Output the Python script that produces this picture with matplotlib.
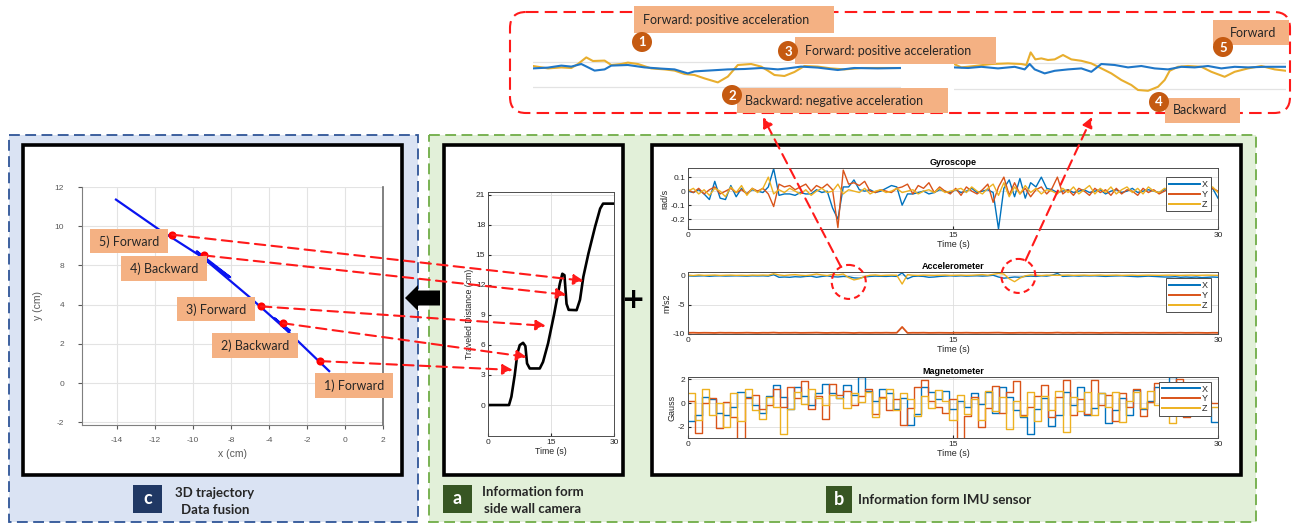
import numpy as np
import matplotlib
matplotlib.use("Agg")
import matplotlib.pyplot as plt
from matplotlib.patches import Rectangle, FancyBboxPatch, Circle, ConnectionPatch, FancyArrow
from matplotlib.ticker import FuncFormatter

plt.rcParams["axes.unicode_minus"] = False

# ---------------- (c) trajectory in the x-y plane ----------------
traj_x = [-2.79, -5.25, -5.70, -4.90, -5.25, -7.09, -9.51, -9.80, -8.05, -9.51, -11.83, -14.10]
traj_y = [0.57, 2.86, 3.30, 2.68, 2.86, 4.44, 6.42, 6.72, 5.40, 6.42, 7.86, 9.39]
traj_xtick_labels = ["-14", "-12", "-10", "-8", "-4", "-2", "0", "2"]
traj_ytick_labels = ["-2", "0", "2", "4", "8", "10", "12"]
event_labels = ["1) Forward", "2) Backward", "3) Forward", "4) Backward", "5) Forward"]
event_x = [-3.32, -5.26, -6.42, -9.42, -11.10]
event_y = [1.12, 3.05, 3.91, 6.51, 7.57]

# ---------------- (a) side wall camera ----------------
cam_t = [0, 5.0, 5.57, 6.36, 7.0, 7.56, 8.35, 8.9, 9.3, 9.94, 12.33, 13.1, 14.3, 15.7,
         17.1, 17.7, 18.2, 18.7, 19.2, 21.1, 21.9, 22.7, 23.9, 25.5, 26.7, 27.4, 30]
cam_d = [0, 0, 0.83, 2.99, 5.15, 5.98, 6.21, 5.88, 4.15, 3.65, 3.65, 4.3, 6.15, 8.97,
         12.1, 13.1, 12.96, 10.1, 9.5, 9.47, 10.5, 12.8, 15.1, 17.8, 19.6, 20.1, 20.1]
# where each motion event sits on the camera curve
event_t = [5.9, 9.2, 13.8, 18.7, 22.8]
event_d = [3.5, 4.8, 7.9, 11.0, 12.4]

# ---------------- (b) IMU sensor ----------------
imu_t = np.linspace(0, 30, 100)
gyro_x = [0.0, -0.01, 0.01, -0.02, -0.06, 0.07, -0.05, -0.06, 0.04, -0.04,
          0.02, -0.02, 0.01, 0.0, -0.01, 0.03, 0.16, -0.03, -0.02, -0.02,
          -0.03, -0.01, -0.02, -0.02, 0.01, -0.01, 0.0, -0.12, -0.2, 0.03,
          0.03, 0.08, 0.01, 0.0, 0.01, -0.01, 0.0, 0.02, 0.04, 0.03,
          -0.1, -0.02, -0.02, -0.01, 0.0, -0.02, -0.01, 0.01, 0.0, -0.01,
          0.01, -0.01, 0.0, 0.02, -0.01, 0.0, 0.01, -0.01, -0.27, 0.02,
          0.08, -0.04, 0.09, -0.05, 0.06, 0.03, 0.1, 0.02, 0.01, -0.01,
          0.0, 0.01, -0.01, 0.0, 0.01, -0.01, 0.0, 0.01, -0.02, 0.0,
          0.01, -0.01, 0.0, 0.02, -0.01, 0.0, 0.01, 0.0, -0.01, 0.01,
          0.0, 0.01, -0.01, 0.0, 0.02, -0.01, 0.01, 0.0, 0.02, -0.05]
gyro_y = [0.01, -0.01, 0.02, -0.02, 0.01, 0.03, -0.02, 0.0, 0.02, -0.01,
          0.01, -0.02, 0.02, 0.0, 0.02, -0.02, -0.11, 0.05, 0.03, 0.04,
          0.01, 0.03, 0.05, 0.0, 0.04, 0.02, 0.05, 0.01, -0.26, 0.15,
          0.05, 0.06, 0.04, 0.07, 0.0, -0.01, 0.01, 0.0, -0.01, 0.02,
          0.03, 0.05, -0.02, 0.04, 0.02, 0.06, -0.01, 0.03, 0.0, -0.02,
          0.02, -0.03, 0.03, 0.0, -0.02, 0.01, 0.05, -0.08, 0.03, 0.1,
          -0.03, 0.06, -0.02, 0.02, -0.04, 0.01, 0.03, -0.02, 0.02, 0.1,
          -0.02, 0.01, -0.03, 0.02, 0.0, -0.03, 0.02, -0.01, 0.01, -0.03,
          0.02, -0.02, 0.01, 0.0, -0.03, 0.02, -0.01, 0.01, -0.02, 0.0,
          0.02, -0.01, 0.0, 0.02, -0.02, 0.01, 0.0, -0.01, 0.02, 0.0]
gyro_z = [0.0, 0.02, -0.02, 0.01, -0.03, 0.02, 0.0, -0.04, 0.03, -0.01,
          0.04, -0.03, 0.02, -0.01, 0.02, 0.1, -0.02, 0.01, -0.01, 0.02,
          0.0, -0.02, 0.01, -0.03, 0.0, 0.02, -0.01, 0.0, 0.05, -0.02,
          0.01, 0.0, -0.01, 0.02, -0.02, 0.0, 0.01, -0.01, 0.0, 0.02,
          -0.01, 0.0, 0.01, -0.02, 0.0, 0.01, -0.01, 0.02, -0.01, 0.0,
          0.01, 0.02, -0.01, 0.03, 0.0, -0.02, 0.02, 0.05, -0.03, 0.06,
          -0.04, 0.03, -0.02, 0.04, -0.01, 0.02, -0.02, 0.01, 0.0, -0.02,
          0.02, -0.01, 0.03, -0.02, 0.01, 0.04, -0.02, 0.02, -0.01, 0.03,
          -0.02, 0.01, 0.03, -0.01, 0.02, -0.02, 0.03, 0.0, -0.01, 0.02,
          0.01, -0.02, 0.03, 0.0, 0.01, -0.01, 0.02, 0.01, 0.03, -0.01]
acc_x = [-0.1, -0.15, -0.12, -0.1, -0.18, -0.12, -0.1, -0.14, -0.12, -0.1,
         -0.12, -0.15, -0.1, -0.12, -0.1, -0.15, 0.1, -0.35, -0.3, -0.35,
         -0.25, -0.3, -0.2, -0.15, -0.35, -0.2, -0.1, -0.25, -0.3, -0.2,
         -0.25, -0.45, -0.5, -0.3, -0.2, -0.15, -0.18, -0.2, -0.15, -0.2,
         0.4, -0.6, -0.2, -0.15, -0.2, -0.35, -0.3, -0.2, -0.15, -0.1,
         -0.15, -0.1, -0.15, -0.12, -0.1, -0.15, -0.1, 0.0, -0.3, -0.5,
         -0.4, -0.3, -0.35, -0.2, -0.15, -0.2, -0.1, -0.15, 0.0, 0.3,
         -0.2, -0.15, -0.1, -0.15, -0.1, -0.12, -0.1, -0.15, -0.2, -0.15,
         -0.12, -0.1, -0.15, -0.2, -0.25, -0.2, -0.15, -0.2, -0.25, -0.3,
         -0.3, -0.25, -0.35, -0.3, -0.35, -0.3, -0.4, -0.35, -0.3, -0.35]
acc_y = [-9.80, -9.78, -9.81, -9.79, -9.80, -9.82, -9.78, -9.80, -9.79, -9.81,
         -9.80, -9.78, -9.80, -9.82, -9.79, -9.80, -9.76, -9.81, -9.79, -9.80,
         -9.78, -9.81, -9.80, -9.79, -9.77, -9.80, -9.82, -9.79, -9.81, -9.78,
         -9.80, -9.83, -9.79, -9.80, -9.81, -9.79, -9.80, -9.78, -9.80, -9.79,
         -8.80, -9.82, -9.79, -9.80, -9.78, -9.81, -9.80, -9.79, -9.80, -9.81,
         -9.79, -9.80, -9.78, -9.80, -9.81, -9.79, -9.80, -9.78, -9.77, -9.80,
         -9.82, -9.81, -9.79, -9.80, -9.78, -9.80, -9.79, -9.81, -9.80, -9.76,
         -9.80, -9.79, -9.81, -9.78, -9.80, -9.79, -9.80, -9.82, -9.79, -9.80,
         -9.78, -9.80, -9.81, -9.79, -9.80, -9.78, -9.80, -9.79, -9.81, -9.80,
         -9.79, -9.80, -9.78, -9.81, -9.80, -9.79, -9.80, -9.82, -9.79, -9.80]
acc_z = [0.0, -0.05, 0.05, -0.02, 0.0, 0.03, -0.03, 0.0, 0.02, -0.02,
         0.0, -0.03, 0.02, 0.0, 0.03, 0.0, 0.25, 0.05, -0.05, 0.05,
         0.1, 0.0, -0.05, 0.05, 0.2, 0.05, -0.05, 0.15, 0.05, 0.2,
         -0.4, -0.8, -0.6, -0.2, 0.0, 0.05, -0.05, 0.0, 0.02, 0.0,
         -1.5, 0.1, 0.0, -0.03, 0.02, 0.0, -0.02, 0.0, 0.03, -0.02,
         0.0, 0.02, -0.02, 0.0, 0.05, 0.1, 0.0, 0.15, 0.3, 0.2,
         -0.6, -1.1, -0.5, -0.1, 0.05, 0.0, -0.05, 0.02, 0.0, -0.02,
         0.0, 0.03, -0.02, 0.0, 0.02, -0.02, 0.0, 0.03, -0.02, 0.0,
         0.02, -0.02, 0.0, 0.02, -0.03, 0.0, 0.02, 0.0, -0.02, 0.0,
         0.02, 0.0, -0.02, 0.0, 0.02, -0.02, 0.0, 0.02, 0.0, -0.02]
mag_t = np.linspace(0, 30, 76)
mag_x = [-1.5, -1.0, 0.5, 0.3, -0.8, -1.0, -0.3, 0.9, 0.5, -0.2,
         -0.8, 0.6, 1.5, 0.5, -0.5, 1.3, 0.6, -0.2, 0.8, 1.6,
         0.8, 0.4, 1.5, 0.7, 2.2, 1.0, 0.2, 1.2, 0.8, -0.5,
         0.4, -1.8, -0.9, 1.3, 0.9, 0.3, 1.0, -0.5, 0.2, -0.3,
         0.8, -0.1, 0.9, -0.8, 1.3, 0.5, -0.6, -1.2, -2.6, -0.5,
         0.4, -1.9, -1.0, 0.9, -0.2, 1.3, -1.0, -0.4, 0.8, -1.7,
         -0.6, 0.4, -1.0, 1.1, -0.5, 0.2, 1.3, 0.9, 2.2, 1.0,
         -0.1, 0.9, 0.3, -0.4, -1.6]
mag_y = [0.2, -2.5, 0.0, 0.4, -2.1, 0.1, -1.2, -3.0, 0.4, 0.7,
         -0.5, -0.2, 1.2, -0.3, 1.3, 0.4, 1.8, -0.5, 0.6, -1.3,
         1.6, 0.7, 1.0, -0.2, 0.6, 1.2, -0.9, 0.5, -0.6, 0.3,
         -1.8, -0.4, 1.3, 1.9, 0.2, -0.3, -0.8, 0.3, -3.0, -1.1,
         0.5, -2.0, -0.4, 1.4, -0.8, 0.9, 1.8, -1.0, -0.3, 0.6,
         1.5, -1.2, 0.5, 1.9, -1.0, 0.3, -0.9, 1.9, -0.2, 0.7,
         -1.5, 0.8, -0.3, 1.2, -1.1, 0.1, 1.7, -0.8, 0.3, 2.0,
         -1.2, 0.9, -0.6, 0.2, 0.0]
mag_z = [0.8, -1.4, 1.2, -1.0, 0.0, -2.0, 0.8, -1.5, 1.2, -0.6,
         -1.3, 0.5, -0.3, -2.6, -0.5, 0.9, -0.1, 1.2, 0.4, -0.2,
         0.7, 0.4, -0.4, 0.8, 0.1, 0.9, -1.2, 0.4, 1.2, -0.6,
         0.8, 0.3, -1.1, 0.6, -0.4, 1.1, 0.2, -1.4, 0.7, -0.9,
         0.3, -1.4, 1.0, -0.7, 0.5, -2.2, 0.2, -1.1, 0.9, -1.5,
         0.6, -0.6, 1.0, -2.4, 0.5, -0.7, 0.9, -1.0, 0.8, -0.3,
         0.9, -1.6, 0.2, 0.9, -0.4, 1.0, -0.2, 0.7, -1.7, 0.2,
         0.6, -0.8, 0.1, -0.4, -0.3]

# zoomed accelerometer windows (X and Z channels)
seg1_tz = [0.15, 0.6, 1.0, 1.3, 1.5, 1.75, 1.95, 2.3, 2.5, 2.8, 3.0, 3.3, 3.7, 4.1, 4.4, 4.7, 5.0,
           5.3, 5.7, 6.0, 6.3, 6.7, 7.0, 7.2, 7.4, 7.7, 8.0, 8.3, 8.7, 9.1, 9.5, 10.0, 10.5, 11.2]
seg1_z = [0.10, -0.02, 0.03, 0.0, 0.2, 0.53, 0.35, 0.37, 0.15, 0.2, 0.27, 0.2, -0.02, -0.07, -0.13,
          -0.3, -0.35, -0.52, -0.72, -0.43, 0.15, 0.2, 0.07, -0.13, -0.35, -0.4, -0.2, 0.1, 0.07,
          -0.02, -0.07, 0.0, 0.0, 0.0]
seg1_tx = [0.15, 0.6, 1.0, 1.3, 1.6, 2.0, 2.3, 2.5, 3.0, 3.5, 4.0, 4.4, 4.8, 5.0, 5.4, 6.0, 6.5,
           7.0, 7.5, 7.8, 8.2, 8.7, 9.3, 9.8, 10.5, 11.2]
seg1_x = [-0.02, 0.02, 0.12, 0.07, 0.2, -0.13, -0.07, 0.12, 0.15, 0.03, -0.03, -0.07, -0.27,
          -0.17, -0.13, -0.07, -0.05, 0.0, -0.07, -0.02, 0.07, 0.02, -0.1, 0.0, -0.02, 0.0]
seg2_tz = [0.18, 0.4, 0.8, 1.3, 1.8, 2.2, 2.35, 2.48, 2.62, 2.8, 3.0, 3.2, 3.45, 3.7, 4.0, 4.3,
           4.6, 4.9, 5.2, 5.5, 5.7, 6.0, 6.3, 6.5, 6.65, 6.9, 7.2, 7.6, 7.9, 8.3, 8.6, 9.0, 9.4,
           9.8, 10.14]
seg2_z = [0.17, 0.0, 0.07, 0.17, 0.2, 0.17, 0.12, 0.75, 0.4, 0.45, 0.37, 0.4, 0.62, 0.4, 0.33,
          0.2, -0.05, -0.3, -0.63, -0.88, -1.13, -1.17, -0.97, -0.63, -0.17, 0.03, 0.07, 0.03,
          -0.22, -0.47, -0.22, -0.05, 0.07, -0.1, -0.17]
seg2_tx = [0.18, 0.6, 1.0, 1.5, 2.0, 2.3, 2.45, 2.6, 2.9, 3.2, 3.6, 4.0, 4.3, 4.6, 5.0, 5.4,
           5.8, 6.2, 6.6, 7.0, 7.4, 7.8, 8.2, 8.6, 9.0, 9.5, 10.14]
seg2_x = [0.0, -0.03, 0.03, -0.05, 0.03, -0.1, 0.17, -0.1, -0.3, -0.17, -0.1, -0.05, -0.22,
          0.17, 0.12, 0.0, 0.07, -0.05, -0.1, 0.03, 0.0, 0.07, -0.05, 0.03, 0.0, 0.03, 0.03]
# accelerometer spots that the windows enlarge
zoom_t = [9.1, 18.7]
zoom_a = [-1.14, -0.12]

C_X, C_Y, C_Z = "#0072BD", "#D95319", "#EDB120"
ORANGE, BADGE = "#F4B183", "#C55A11"
UI_FONT = ["Lato", "DejaVu Sans"]
PLOT_FONT = ["Liberation Sans", "DejaVu Sans"]

W, H = 1300, 524
fig = plt.figure(figsize=(W / 100, H / 100), dpi=100)
fig.patch.set_facecolor("white")


def frac(x0, y0, x1, y1):
    return [x0 / W, 1 - y1 / H, (x1 - x0) / W, (y1 - y0) / H]


def to_px(ax, x, y):
    dx, dy = ax.transData.transform((x, y))
    return dx, H - dy


# background layer (pixel coordinates, y downwards)
bg = fig.add_axes([0, 0, 1, 1], zorder=-5)
bg.set_xlim(0, W)
bg.set_ylim(H, 0)
bg.axis("off")
bg.add_patch(Rectangle((9, 135), 409, 387, fc="#DAE3F3", ec="#2F5597", lw=1.3, ls=(0, (6, 3))))
bg.add_patch(Rectangle((429, 135), 827, 387, fc="#E2F0D9", ec="#70AD47", lw=1.3, ls=(0, (6, 3))))
for x0, x1 in [(23, 402), (444, 623), (652, 1241)]:
    bg.add_patch(Rectangle((x0, 145), x1 - x0, 330, fc="white", ec="black", lw=2.6))
bg.add_patch(FancyBboxPatch((510, 12), 780, 101, boxstyle="round,pad=0,rounding_size=16",
                            fc="white", ec="#FF1A1A", lw=1.5, ls=(0, (6, 3))))

# ---------- (c) trajectory ----------
ax_c = fig.add_axes(frac(82, 187, 383, 425))
ax_c.plot(traj_x, traj_y, color="#0A14F0", lw=1.6, solid_capstyle="butt")
ax_c.scatter(event_x, event_y, s=34, color="#FF0000", zorder=5, linewidths=0)
ax_c.set_xlim(-15.84, 0)
ax_c.set_ylim(-2.14, 9.96)
ax_c.set_xticks(np.arange(-14, 1, 2))
ax_c.set_xticklabels(traj_xtick_labels)
ax_c.set_yticks(np.arange(-2, 11, 2))
ax_c.set_yticklabels(traj_ytick_labels)
ax_c.grid(color="#E3E3E3", lw=0.8)
ax_c.set_axisbelow(True)
ax_c.tick_params(length=3, labelsize=6, colors="#595959", pad=6)
ax_c.tick_params(axis="y", pad=10)
for s in ["left", "bottom"]:
    ax_c.spines[s].set_color("#7F7F7F")
ax_c.spines["right"].set_color("#6B6B6B")
ax_c.spines["right"].set_linewidth(1.2)
ax_c.spines["top"].set_visible(False)
ax_c.set_xlabel("x (cm)", fontsize=7.5, color="#595959", family=PLOT_FONT, labelpad=3)
ax_c.set_ylabel("y (cm)", fontsize=7.5, color="#595959", family=PLOT_FONT, labelpad=8)
for lab in ax_c.get_xticklabels() + ax_c.get_yticklabels():
    lab.set_family(PLOT_FONT)

# ---------- (a) camera ----------
ax_a = fig.add_axes(frac(488, 192, 614, 436))
ax_a.plot(cam_t, cam_d, color="black", lw=1.9, solid_joinstyle="round")
ax_a.set_xlim(0, 30)
ax_a.set_ylim(-3.09, 21.26)
ax_a.set_xticks([0, 15, 30])
ax_a.set_yticks(np.arange(0, 22, 3))
ax_a.grid(color="#DCDCDC", lw=0.6)
ax_a.set_axisbelow(True)
ax_a.tick_params(direction="in", length=2, labelsize=6, pad=2, colors="#262626")
for s in ax_a.spines.values():
    s.set_color("#4D4D4D")
    s.set_linewidth(0.7)
ax_a.set_xlabel("Time (s)", fontsize=6.3, family=PLOT_FONT, labelpad=1, color="#262626")
ax_a.set_ylabel("Traveled Distance (cm)", fontsize=6.3, family=PLOT_FONT, labelpad=1, color="#262626")
for lab in ax_a.get_xticklabels() + ax_a.get_yticklabels():
    lab.set_family(PLOT_FONT)


# ---------- (b) IMU ----------
def imu_axes(y0, y1, title, ylabel, ylim, yticks, legend_y):
    ax = fig.add_axes(frac(688, y0, 1218, y1))
    ax.set_xlim(0, 30)
    ax.set_ylim(*ylim)
    ax.set_xticks([0, 15, 30])
    ax.set_yticks(yticks)
    ax.yaxis.set_major_formatter(FuncFormatter(lambda v, p: f"{v:g}"))
    ax.grid(color="#DEDEDE", lw=0.6)
    ax.set_axisbelow(True)
    ax.tick_params(direction="in", length=2.5, labelsize=6, pad=2, colors="#262626")
    for s in ax.spines.values():
        s.set_color("#4D4D4D")
        s.set_linewidth(0.7)
    ax.set_title(title, fontsize=6.5, fontweight="bold", pad=2.5, family=PLOT_FONT)
    ax.set_xlabel("Time (s)", fontsize=6.5, labelpad=1, family=PLOT_FONT, color="#262626")
    ax.set_ylabel(ylabel, fontsize=6.5, labelpad=1, family=PLOT_FONT, color="#262626")
    for lab in ax.get_xticklabels() + ax.get_yticklabels():
        lab.set_family(PLOT_FONT)
    ax._legend_y = legend_y
    return ax


def imu_legend(ax, hlen=3.4):
    leg = ax.legend(["X", "Y", "Z"], loc="upper right", bbox_to_anchor=(0.986, ax._legend_y),
                    prop={"family": PLOT_FONT, "size": 6.5}, handlelength=hlen, handletextpad=0.25,
                    labelspacing=0.1, borderpad=0.3, borderaxespad=0, fancybox=False,
                    edgecolor="#4D4D4D", framealpha=1)
    leg.get_frame().set_linewidth(0.7)
    for line in leg.get_lines():
        line.set_linewidth(1.4)
    for t in leg.get_texts():
        t.set_color("#262626")


ax_g = imu_axes(168, 229, "Gyroscope", "rad/s", (-0.27, 0.165), [-0.2, -0.1, 0, 0.1], 0.85)
ax_g.plot(imu_t, gyro_x, color=C_X, lw=1.0)
ax_g.plot(imu_t, gyro_y, color=C_Y, lw=1.0)
ax_g.plot(imu_t, gyro_z, color=C_Z, lw=1.0)
imu_legend(ax_g)

ax_m = imu_axes(272, 334, "Accelerometer", "m/s2", (-10.0, 0.55), [-10, -5, 0], 0.9)
ax_m.plot(imu_t, acc_x, color=C_X, lw=1.0)
ax_m.plot(imu_t, acc_y, color=C_Y, lw=1.3)
ax_m.plot(imu_t, acc_z, color=C_Z, lw=1.0)
imu_legend(ax_m)

ax_mg = imu_axes(377, 438, "Magnetometer", "Gauss", (-2.92, 2.17), [-2, 0, 2], 0.92)
for vals, col in [(mag_x, C_X), (mag_y, C_Y), (mag_z, C_Z)]:
    ax_mg.plot(mag_t, list(vals) + [vals[-1]], drawstyle="steps-post", color=col, lw=1.0)
imu_legend(ax_mg, hlen=4.2)

# ---------- zoomed accelerometer windows ----------
for (x0, x1), (tz, vz, tx, vx), (ylo, yhi), grid_v in [
        ((533, 901), (seg1_tz, seg1_z, seg1_tx, seg1_x), (-1.6, 1.4), (0.3, -0.93)),
        ((954, 1286), (seg2_tz, seg2_z, seg2_tx, seg2_x), (-1.63, 1.37), (0.2, -1.1))]:
    axz = fig.add_axes(frac(x0, 40, x1, 100))
    axz.axis("off")
    for g in grid_v:
        axz.axhline(g, color="#E3E3E3", lw=0.9)
    axz.plot(tz, vz, color="#E8AE2E", lw=1.5)
    axz.plot(tx, vx, color="#1F77C8", lw=1.5)
    axz.set_xlim(tz[0], tz[-1])
    axz.set_ylim(ylo, yhi)

# ---------- foreground annotations ----------
fg = fig.add_axes([0, 0, 1, 1], zorder=10)
fg.set_xlim(0, W)
fg.set_ylim(H, 0)
fg.axis("off")
fg.patch.set_alpha(0)

# camera events linked to the trajectory points
for ex, ey, tt, td in zip(event_x, event_y, event_t, event_d):
    con = ConnectionPatch(xyA=(ex, ey), coordsA=ax_c.transData, xyB=(tt, td), coordsB=ax_a.transData,
                          arrowstyle="-|>,head_length=0.6,head_width=0.3", color="#FF1A1A", lw=1.5,
                          ls=(0, (5, 3)), mutation_scale=10, shrinkA=0, shrinkB=0, zorder=3)
    fig.add_artist(con)

# labels next to the trajectory points
traj_boxes = [(315, 373, 393, 398), (212, 333, 298, 358), (177, 297, 255, 321),
              (121, 256, 207, 281), (90, 229, 168, 253)]
for (x0, y0, x1, y1), txt in zip(traj_boxes, event_labels):
    fg.add_patch(Rectangle((x0, y0), x1 - x0, y1 - y0, fc=ORANGE, ec="none"))
    fg.text((x0 + x1) / 2, (y0 + y1) / 2 + 0.5, txt, ha="center", va="center", fontsize=9,
            family=UI_FONT, color="#262626")

# dashed circles on the accelerometer, pointing to the zoom windows
tips = [(763, 117), (1092, 117)]
for t0, a0, tip in zip(zoom_t, zoom_a, tips):
    cx, cy = to_px(ax_m, t0, a0)
    fg.add_patch(Circle((cx, cy), 17, fc="none", ec="#FF1A1A", lw=1.5, ls=(0, (3, 2))))
    d = np.array(tip) - np.array([cx, cy])
    start = np.array([cx, cy]) + 17 * d / np.hypot(*d)
    fg.annotate("", xy=tip, xytext=tuple(start),
                arrowprops=dict(arrowstyle="-|>,head_length=0.6,head_width=0.3", color="#FF1A1A",
                                lw=1.5, ls=(0, (5, 3)), mutation_scale=10, shrinkA=0, shrinkB=0))

# numbered notes in the zoom box
top_notes = [
    ("1", (642, 42), (634, 6, 834, 33), "Forward: positive acceleration", 643, 20),
    ("2", (732, 95), (737, 88, 948, 113), "Backward: negative acceleration", 745, 101),
    ("3", (788, 51), (795, 37, 996, 64), "Forward: positive acceleration", 805, 51),
    ("4", (1159, 102), (1165, 98, 1240, 123), "Backward", 1173, 110),
    ("5", (1223, 47), (1213, 20, 1289, 45), "Forward", 1230, 33),
]
for num, (cx, cy), (x0, y0, x1, y1), txt, tx, ty in top_notes:
    fg.add_patch(Rectangle((x0, y0), x1 - x0, y1 - y0, fc=ORANGE, ec="none"))
    fg.text(tx, ty, txt, ha="left", va="center", fontsize=9, family=UI_FONT, color="#262626")
for num, (cx, cy), *_ in top_notes:
    fg.add_patch(Circle((cx, cy), 10, fc=BADGE, ec="none"))
    fg.text(cx, cy + 0.5, num, ha="center", va="center", fontsize=9.5, fontweight="bold",
            color="white", family=UI_FONT)

# fusion arrow and plus sign
fg.add_patch(FancyArrow(440, 298, -35, 0, width=15, head_width=26, head_length=13,
                        length_includes_head=True, fc="black", ec="none"))
fg.text(634, 300, "+", ha="center", va="center", fontsize=20, fontweight="bold", color="black",
        family=["DejaVu Sans"])


# panel captions
def tag(x0, y0, x1, y1, letter, color):
    fg.add_patch(Rectangle((x0, y0), x1 - x0, y1 - y0, fc=color, ec="none"))
    fg.text((x0 + x1) / 2, (y0 + y1) / 2, letter, ha="center", va="center", fontsize=13,
            fontweight="bold", color="white", family=UI_FONT)


tag(133, 485, 162, 513, "c", "#203864")
fg.text(215, 493, "3D trajectory", ha="center", va="center", fontsize=9.5, fontweight="bold",
        family=UI_FONT, color="#262626")
fg.text(215, 510, "Data fusion", ha="center", va="center", fontsize=9.5, fontweight="bold",
        family=UI_FONT, color="#262626")
tag(443, 485, 472, 513, "a", "#375623")
fg.text(533, 492, "Information form", ha="center", va="center", fontsize=9.5, fontweight="bold",
        family=UI_FONT, color="#262626")
fg.text(533, 509, "side wall camera", ha="center", va="center", fontsize=9.5, fontweight="bold",
        family=UI_FONT, color="#262626")
tag(826, 486, 852, 513, "b", "#375623")
fg.text(858, 500, "Information form IMU sensor", ha="left", va="center", fontsize=9.5,
        fontweight="bold", family=UI_FONT, color="#262626")

fig.savefig("out.png", dpi=100, facecolor="white")
